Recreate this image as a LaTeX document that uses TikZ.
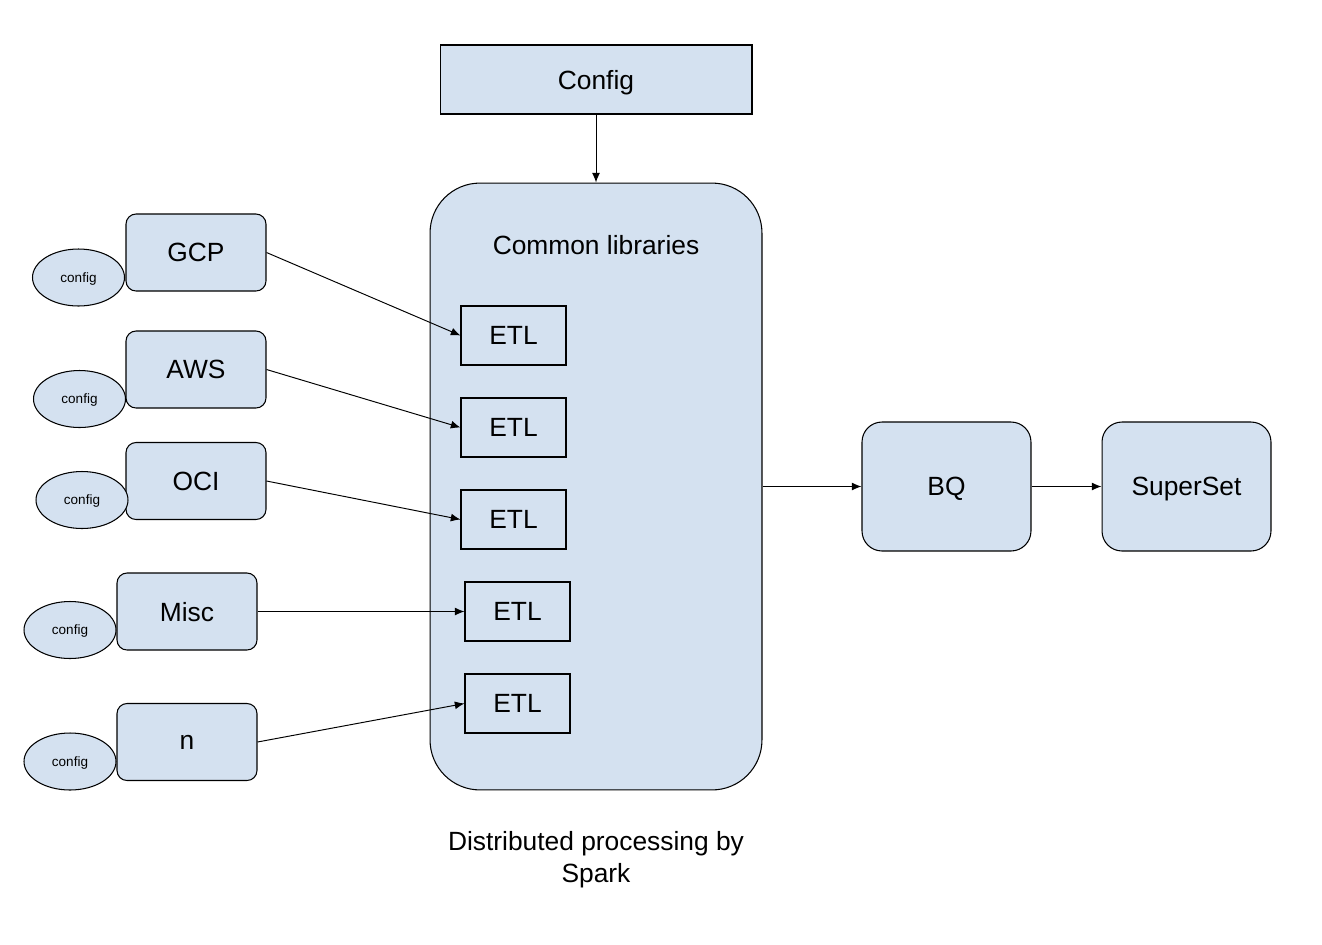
\documentclass[tikz,border=0pt]{standalone}
\usepackage{fontspec}
\setmainfont{Liberation Sans}
\usetikzlibrary{arrows.meta,shapes.geometric}
\definecolor{boxblue}{RGB}{212,225,240}

\begin{document}
\begin{tikzpicture}[x=0.02cm,y=-0.02cm,
	box/.style={draw,fill=boxblue,line width=0.6pt,inner sep=0pt,text depth=0pt,font=\fontsize{15}{18}\selectfont},
	etlbox/.style={box,minimum width=2.1cm,minimum height=1.18cm},
	srcbox/.style={box,rounded corners=0.2cm,minimum width=2.8cm,minimum height=1.54cm},
	endbox/.style={box,rounded corners=0.4cm,minimum width=3.38cm,minimum height=2.58cm},
	cfg/.style={draw,fill=boxblue,line width=0.6pt,ellipse,inner sep=0pt,text depth=0pt,minimum width=1.84cm,minimum height=1.14cm,font=\fontsize{7.7}{9}\selectfont},
	arr/.style={-{Latex[length=5.5pt,width=4.5pt]},line width=0.55pt}]
	\useasboundingbox (0,0) rectangle (1322,944);
	\node[box,minimum width=6.24cm,minimum height=1.38cm] (config) at (596,79.5) {Config};
	\node[box,rounded corners=1cm,minimum width=6.64cm,minimum height=12.14cm] (spark) at (596,486.5) {};
	\node[font=\fontsize{15}{18}\selectfont] (common) at (596,245) {Common libraries};
	\node[etlbox] (etl1) at (513.5,335.5) {ETL};
	\node[etlbox] (etl2) at (513.5,427.5) {ETL};
	\node[etlbox] (etl3) at (513.5,519.5) {ETL};
	\node[etlbox] (etl4) at (517.5,611.5) {ETL};
	\node[etlbox] (etl5) at (517.5,703.5) {ETL};
	\node[srcbox] (gcp) at (196,252.5) {GCP};
	\node[srcbox] (aws) at (196,369.5) {AWS};
	\node[srcbox] (oci) at (196,481) {OCI};
	\node[srcbox] (misc) at (187,611.5) {Misc};
	\node[srcbox] (n) at (187,742) {n};
	\node[cfg] (cfg1) at (78.5,277.5) {config};
	\node[cfg] (cfg2) at (79.5,399) {config};
	\node[cfg] (cfg3) at (82,500) {config};
	\node[cfg] (cfg4) at (70,630) {config};
	\node[cfg] (cfg5) at (70,761.5) {config};
	\node[endbox] (bq) at (946.5,486.5) {BQ};
	\node[endbox] (superset) at (1186.5,486.5) {SuperSet};
	\node[font=\fontsize{15}{18.2}\selectfont,align=center] (caption) at (596,860) {Distributed processing by\\Spark};
	\draw[arr] (config) -- (spark);
	\draw[arr] (gcp.east) -- (etl1.west);
	\draw[arr] (aws.east) -- (etl2.west);
	\draw[arr] (oci.east) -- (etl3.west);
	\draw[arr] (misc.east) -- (etl4.west);
	\draw[arr] (n.east) -- (etl5.west);
	\draw[arr] (spark.east) -- (bq.west);
	\draw[arr] (bq) -- (superset);
\end{tikzpicture}
\end{document}
